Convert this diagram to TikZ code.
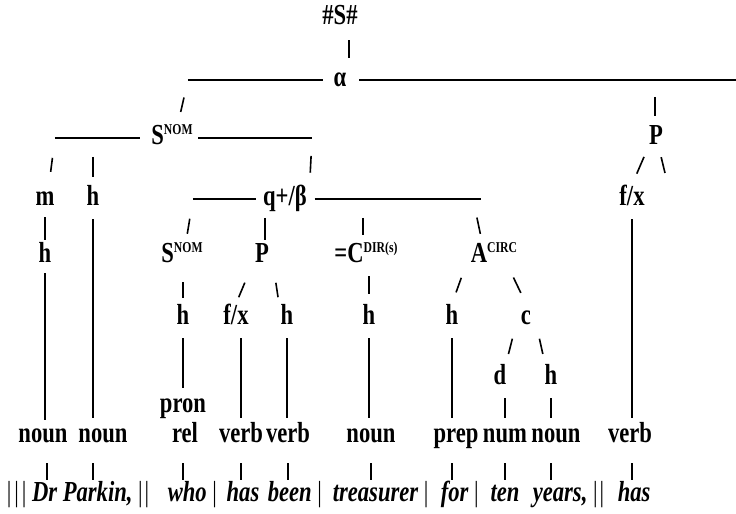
\documentclass[tikz,border=0pt]{standalone}
\usepackage{fontspec}
\setmainfont{Liberation Serif}[FakeStretch=0.78]
\newcommand{\supcap}[1]{\raisebox{5pt}{\fontsize{7.5}{7.5}\selectfont #1}}
\newcommand{\vb}{{\upshape\mdseries|}}

\begin{document}
\begin{tikzpicture}[
    x=0.5pt, y=-0.5pt, line width=0.8pt,
    lbl/.style={inner sep=1pt, text height=9pt, text depth=2.5pt, font=\fontsize{14.5}{16}\selectfont\bfseries},
    word/.style={lbl, font=\fontsize{14.5}{16}\selectfont\bfseries\itshape},
    twig/.style 2 args={shorten <=#1, shorten >=#2}
  ]
  \useasboundingbox (0,0) rectangle (736,514);

  % labels, row by row
  \node[lbl] (top) at (340,18) {\#S\#};
  \node[lbl] (alpha) at (340,80) {α};
  \node[lbl] (sA) at (172,138) {S\supcap{NOM}};
  \node[lbl] (pR) at (656,138) {P};
  \node[lbl] (m) at (45,199) {m};
  \node[lbl] (h1) at (93,199) {h};
  \node[lbl] (q) at (285,199) {q+/β};
  \node[lbl] (fxR) at (632,199) {f/x};
  \node[lbl] (h2) at (45,256) {h};
  \node[lbl] (sB) at (182,256) {S\supcap{NOM}};
  \node[lbl] (pB) at (262,256) {P};
  \node[lbl] (cDir) at (366,256) {=C\supcap{DIR(s)}};
  \node[lbl] (aCirc) at (494,256) {A\supcap{CIRC}};
  \node[lbl] (hS) at (183,318) {h};
  \node[lbl] (fxB) at (236,318) {f/x};
  \node[lbl] (hP) at (287,318) {h};
  \node[lbl] (hC) at (369,318) {h};
  \node[lbl] (hPrep) at (452,318) {h};
  \node[lbl] (c) at (526,318) {c};
  \node[lbl] (d) at (500,378) {d};
  \node[lbl] (hN) at (551,378) {h};
  \node[lbl] (pron) at (183,406) {pron};
  \node[lbl] (noun1) at (43,436) {noun};
  \node[lbl] (noun2) at (103,436) {noun};
  \node[lbl] (rel) at (185,436) {rel};
  \node[lbl] (verb1) at (241,436) {verb};
  \node[lbl] (verb2) at (288,436) {verb};
  \node[lbl] (noun3) at (371,436) {noun};
  \node[lbl] (prep) at (456,436) {prep};
  \node[lbl] (num) at (505,436) {num};
  \node[lbl] (noun4) at (556,436) {noun};
  \node[lbl] (verbR) at (630,436) {verb};

  % the clause itself
  \node[word, anchor=east] (wDr) at (60,495) {\vb\kern1.5pt\vb\kern1.5pt\vb\ Dr};
  \node[word, anchor=west] (wParkin) at (60,495) {Parkin, \vb\kern1pt\vb};
  \node[word, anchor=west] (wWho) at (165,495) {who \vb};
  \node[word] (wHas) at (243,495) {has};
  \node[word, anchor=west] (wBeen) at (265,495) {been \vb};
  \node[word, anchor=west] (wTreas) at (330,495) {treasurer \vb};
  \node[word, anchor=west] (wFor) at (438,495) {for \vb};
  \node[word] (wTen) at (505,495) {ten};
  \node[word, anchor=west] (wYears) at (530,495) {years, \vb\kern1pt\vb};
  \node[word, anchor=west] (wHas2) at (615,495) {has};

  % ends of the horizontal rules
  \coordinate (aL) at (188,80);
  \coordinate (aP) at (655,80);
  \coordinate (aR) at (736,80);
  \coordinate (sL) at (55,138);
  \coordinate (sH) at (93,138);
  \coordinate (sR) at (312,138);
  \coordinate (qL) at (193,199);
  \coordinate (qP) at (265,199);
  \coordinate (qC) at (363,199);
  \coordinate (qR) at (481,199);
  \coordinate (pX) at (665,173);

  % sentence and alpha clause
  \draw[twig={4pt}{4pt}] ([xshift=4.5pt]top.south) -- ([xshift=4.5pt]alpha.north);
  \draw[twig={0pt}{4pt}] (aL) -- (alpha.west);
  \draw[twig={5pt}{0pt}] (alpha.east) -- (aR);
  \draw[twig={9pt}{6pt}] (aL) -- ([xshift=3pt]sA.north);
  \draw[twig={8.5pt}{4pt}] (aP) -- (aP |- pR.north);

  % predicator on the right
  \draw[twig={2.5pt}{6pt}] ([xshift=-5pt]pR.south) -- (fxR.north);
  \draw[twig={2.5pt}{0pt}] ([xshift=2pt]pR.south) -- (pX);
  \draw[twig={3pt}{2pt}] (fxR) -- (fxR |- verbR.north);

  % subject
  \draw[twig={0pt}{4.5pt}] (sL) -- (sA.west);
  \draw[twig={1.5pt}{0pt}] (sA.east) -- (sR);
  \draw[twig={10pt}{6.5pt}] (sL) -- ([xshift=2pt]m.north);
  \draw[twig={9.5pt}{4pt}] (sH) -- (sH |- h1.north);
  \draw[twig={9pt}{6pt}] (sR) -- (q.north east);
  \draw[twig={2pt}{1pt}] (m) -- (h2);
  \draw[twig={1.5pt}{1pt}] (h2) -- (h2 |- noun1.north);
  \draw[twig={3pt}{2pt}] (h1) -- (h1 |- noun2.north);

  % qualifier
  \draw[twig={0pt}{2pt}] (qL) -- (q.west);
  \draw[twig={2.5pt}{0pt}] (q.east) -- (qR);
  \draw[twig={10pt}{4pt}] (qL) -- ([xshift=2pt]sB.north);
  \draw[twig={9.5pt}{1pt}] (qP) -- (qP |- pB.north);
  \draw[twig={9.5pt}{3.5pt}] (qC) -- (qC |- cDir.north);
  \draw[twig={9.5pt}{4pt}] ([xshift=-4pt]qR) -- ([xshift=-6pt]aCirc.north);

  \draw[twig={6pt}{3pt}] (hS.north |- sB.south) -- (hS);
  \draw[twig={6.7pt}{3.5pt}] ([xshift=-6pt]pB.south) -- (fxB.north);
  \draw[twig={6.3pt}{3.3pt}] ([xshift=6pt]pB.south) -- ([xshift=-4pt]hP.north);
  \draw[twig={3pt}{2pt}] (hS) -- (pron);
  \draw[twig={3pt}{2pt}] (verb1.north |- fxB.south) -- (verb1);
  \draw[twig={3pt}{2pt}] (hP) -- (hP |- verb2.north);
  \draw[twig={3pt}{5pt}] (hC.north |- cDir.south) -- (hC);
  \draw[twig={3pt}{2pt}] (hC) -- (hC |- noun3.north);

  % adjunct
  \draw[twig={4pt}{6pt}] ([xshift=-15pt]aCirc.south) -- (hPrep.north);
  \draw[twig={4pt}{6pt}] ([xshift=8pt]aCirc.south) -- (c.north);
  \draw[twig={3pt}{2pt}] (hPrep) -- (hPrep |- prep.north);
  \draw[twig={3.3pt}{5pt}] ([xshift=-6pt]c.south) -- ([xshift=3pt]d.north);
  \draw[twig={3.3pt}{5pt}] ([xshift=6pt]c.south) -- ([xshift=-3pt]hN.north);
  \draw[twig={3pt}{2pt}] (num.north |- d.south) -- (num);
  \draw[twig={3pt}{2pt}] (hN) -- (hN |- noun4.north);

  % classes to words
  \draw[twig={6.5pt}{0.5pt}] ([xshift=2pt]noun1.south) -- ([xshift=2pt]noun1.south |- wDr.north);
  \draw[twig={6.5pt}{0.5pt}] (noun2.south -| h1) -- (wParkin.north -| h1);
  \draw[twig={6.5pt}{0.5pt}] (rel.south -| hS) -- (wWho.north -| hS);
  \draw[twig={6.5pt}{0.5pt}] (verb1) -- (verb1 |- wHas.north);
  \draw[twig={6.5pt}{0.5pt}] (verb2) -- (verb2 |- wBeen.north);
  \draw[twig={6.5pt}{0.5pt}] (noun3) -- (noun3 |- wTreas.north);
  \draw[twig={6.5pt}{0.5pt}] (prep.south -| hPrep) -- (wFor.north -| hPrep);
  \draw[twig={6.5pt}{0.5pt}] (num) -- (num |- wTen.north);
  \draw[twig={6.5pt}{0.5pt}] (noun4.south -| hN) -- (wYears.north -| hN);
  \draw[twig={6.5pt}{0.5pt}] (verbR.south -| fxR) -- (wHas2.north -| fxR);
\end{tikzpicture}
\end{document}
